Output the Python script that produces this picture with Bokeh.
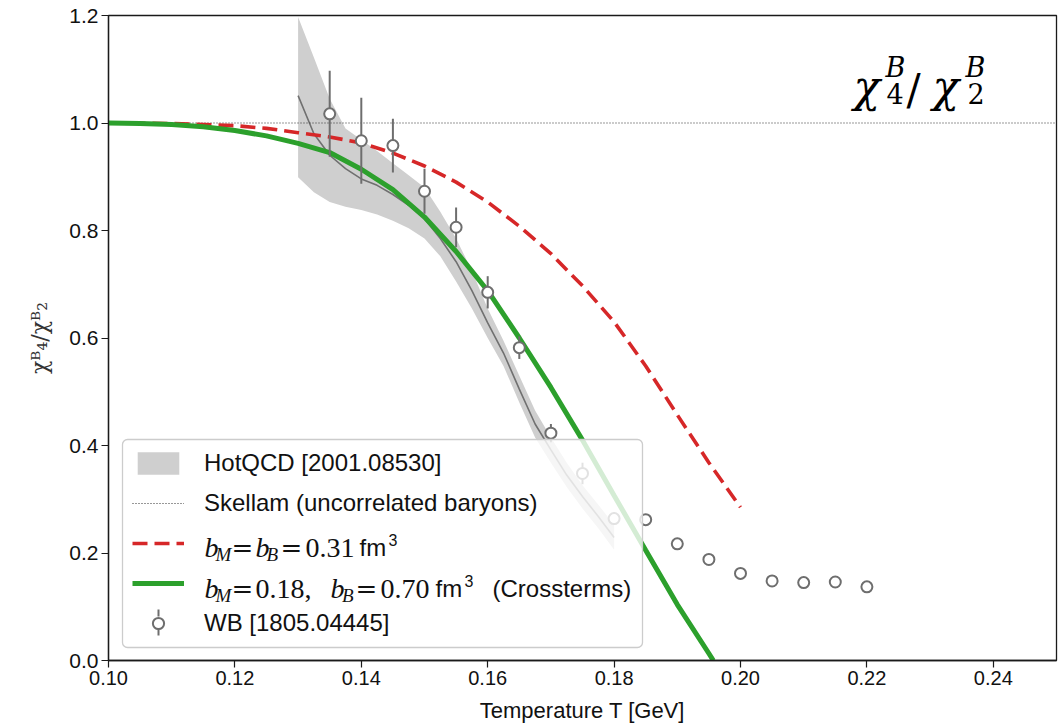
from bokeh.plotting import figure
from bokeh.models import (Range1d, FixedTicker, PrintfTickFormatter, Legend, LegendItem,
                          Label, ColumnDataSource, PolyAnnotation, BoxAnnotation)
from bokeh.embed import file_html
from bokeh.resources import INLINE

# ---------------- data ----------------
hotqcd_T = [0.130, 0.1325, 0.135, 0.1375, 0.140, 0.1425, 0.145, 0.1475, 0.150, 0.1525,
            0.155, 0.1575, 0.160, 0.1625, 0.165, 0.1675, 0.170, 0.1725, 0.175, 0.1775, 0.180]
hotqcd_hi = [1.197, 1.122, 1.045, 0.990, 0.969, 0.948, 0.925, 0.903, 0.880, 0.835,
             0.785, 0.725, 0.655, 0.595, 0.530, 0.465, 0.415, 0.368, 0.326, 0.290, 0.252]
hotqcd_lo = [0.899, 0.871, 0.853, 0.844, 0.838, 0.830, 0.818, 0.804, 0.785, 0.752,
             0.705, 0.655, 0.600, 0.548, 0.480, 0.415, 0.368, 0.323, 0.283, 0.246, 0.206]
hotqcd_mid = [1.051, 0.980, 0.940, 0.915, 0.896, 0.884, 0.867, 0.847, 0.822, 0.785,
              0.742, 0.688, 0.628, 0.572, 0.505, 0.440, 0.392, 0.345, 0.305, 0.268, 0.229]

skellam_T = [0.10, 0.25]
skellam_v = [1.0, 1.0]

red_T = [0.100, 0.110, 0.120, 0.125, 0.130, 0.135, 0.140, 0.145, 0.150, 0.155,
         0.160, 0.165, 0.170, 0.175, 0.180, 0.185, 0.190, 0.195, 0.200]
red_v = [1.000, 0.999, 0.995, 0.990, 0.982, 0.974, 0.963, 0.944, 0.920, 0.890,
         0.853, 0.808, 0.757, 0.697, 0.630, 0.548, 0.457, 0.368, 0.285]

green_T = [0.100, 0.105, 0.110, 0.115, 0.120, 0.125, 0.130, 0.135, 0.140, 0.145,
           0.150, 0.155, 0.160, 0.165, 0.170, 0.175, 0.180, 0.185, 0.190, 0.195, 0.1957]
green_v = [1.000, 0.999, 0.997, 0.993, 0.986, 0.976, 0.962, 0.945, 0.914, 0.876,
           0.825, 0.761, 0.688, 0.600, 0.508, 0.410, 0.307, 0.205, 0.104, 0.013, 0.0]

wb_T = [0.135, 0.140, 0.145, 0.150, 0.155, 0.160, 0.165, 0.170, 0.175, 0.180,
        0.185, 0.190, 0.195, 0.200, 0.205, 0.210, 0.215, 0.220]
wb_v = [1.017, 0.967, 0.958, 0.873, 0.806, 0.685, 0.582, 0.423, 0.348, 0.264,
        0.262, 0.217, 0.188, 0.162, 0.148, 0.145, 0.146, 0.137]
wb_err = [0.080, 0.080, 0.050, 0.042, 0.037, 0.030, 0.021, 0.017, 0.020, 0.012,
          0.010, 0.004, 0.004, 0.004, 0.004, 0.004, 0.004, 0.004]

x_ticks = [0.10, 0.12, 0.14, 0.16, 0.18, 0.20, 0.22, 0.24]
y_ticks = [0.0, 0.2, 0.4, 0.6, 0.8, 1.0, 1.2]

legend_labels = ["HotQCD [2001.08530]", "Skellam (uncorrelated baryons)", " ", " ",
                 "WB [1805.04445]"]

# ---------------- layout ----------------
W, H = 1060, 728
BL, BR, BT, BB = 108, 4, 15, 68
X0, X1, Y0, Y1 = 0.10, 0.25, 0.0, 1.2
FRAME_LEFT = BL
FRAME_BOTTOM = H - BB
PX_T = (W - BL - BR) / (X1 - X0)
PX_V = (H - BT - BB) / (Y1 - Y0)


def at(px, py):
    """picture pixel -> data coordinates (annotation placement only)"""
    return X0 + (px - FRAME_LEFT) / PX_T, Y0 + (FRAME_BOTTOM - py) / PX_V


p = figure(width=W, height=H, x_range=Range1d(X0, X1), y_range=Range1d(Y0, Y1),
           output_backend="svg", toolbar_location=None,
           min_border_left=BL, min_border_right=BR, min_border_top=BT, min_border_bottom=BB)
p.grid.visible = False
p.outline_line_color = "#1a1a1a"
p.outline_line_width = 1.3
p.outline_line_alpha = 1.0

p.xaxis.ticker = FixedTicker(ticks=x_ticks)
p.xaxis.formatter = PrintfTickFormatter(format="%.2f")
p.yaxis.ticker = FixedTicker(ticks=y_ticks)
p.yaxis.formatter = PrintfTickFormatter(format="%.1f")
for ax in (p.xaxis[0], p.yaxis[0]):
    ax.major_tick_in = 0
    ax.major_tick_out = 7
    ax.minor_tick_in = 0
    ax.minor_tick_out = 0
    ax.major_tick_line_color = "#1a1a1a"
    ax.major_tick_line_width = 1.2
    ax.axis_line_color = "#1a1a1a"
    ax.axis_line_width = 1.3
    ax.major_label_text_font = "Liberation Sans"
    ax.major_label_text_color = "#111111"
    ax.axis_label_text_font_style = "normal"
    ax.axis_label_text_color = "#111111"

p.xaxis.major_label_text_font_size = "20px"
p.yaxis.major_label_text_font_size = "21px"
p.xaxis.major_label_standoff = 3
p.yaxis.major_label_standoff = 3
p.xaxis.axis_label = "Temperature T [GeV]"
p.xaxis.axis_label_text_font = "Liberation Sans"
p.xaxis.axis_label_text_font_size = "22px"
p.xaxis.axis_label_standoff = 10
p.yaxis.axis_label = "χᴮ₄/χᴮ₂"
p.yaxis.axis_label_text_font = "DejaVu Serif"
p.yaxis.axis_label_text_font_size = "22px"
p.yaxis.axis_label_text_color = "#333333"
p.yaxis.axis_label_standoff = 14

# ---------------- glyphs ----------------
band_src = ColumnDataSource(dict(T=hotqcd_T, lo=hotqcd_lo, hi=hotqcd_hi, mid=hotqcd_mid))
band_r = p.varea(x="T", y1="lo", y2="hi", source=band_src, fill_color="#cfcfcf", fill_alpha=1.0)
p.line(x="T", y="mid", source=band_src, line_color="#707070", line_width=1.6)

skellam_r = p.line(skellam_T, skellam_v, line_color="#333333", line_width=1.1, line_dash="1 2")
red_r = p.line(red_T, red_v, line_color="#d62728", line_width=3.6, line_dash="15 7")
green_r = p.line(green_T, green_v, line_color="#2ca02c", line_width=5)

wb_src = ColumnDataSource(dict(T=wb_T, v=wb_v,
                               lo=[v - e for v, e in zip(wb_v, wb_err)],
                               hi=[v + e for v, e in zip(wb_v, wb_err)]))
p.segment(x0="T", y0="lo", x1="T", y1="hi", source=wb_src, line_color="#6e6e6e", line_width=2)
wb_r = p.scatter(x="T", y="v", source=wb_src, marker="circle", size=11,
                 line_color="#6e6e6e", line_width=2, fill_color="white")

# ---------------- legend ----------------
# frame (semi-transparent box) drawn as an annotation so that the math texts sit on top
LEG_L, LEG_R, LEG_T, LEG_B = 122, 642, 439, 647
bx0, by0 = at(LEG_L, LEG_B)
bx1, by1 = at(LEG_R, LEG_T)
box = BoxAnnotation(left=bx0, right=bx1, bottom=by0, top=by1, fill_color="white",
                    fill_alpha=0.8, line_color="#cccccc", line_alpha=1.0, line_width=1.3)
if "border_radius" in BoxAnnotation.properties():
    box.border_radius = 5
p.add_layout(box)

legend = Legend(items=[LegendItem(label=legend_labels[0], renderers=[band_r]),
                       LegendItem(label=legend_labels[1], renderers=[skellam_r]),
                       LegendItem(label=legend_labels[2], renderers=[red_r]),
                       LegendItem(label=legend_labels[3], renderers=[green_r]),
                       LegendItem(label=legend_labels[4], renderers=[wb_r])],
                location=(LEG_L - FRAME_LEFT, FRAME_BOTTOM - LEG_B), margin=0, padding=10,
                spacing=12, glyph_width=52, glyph_height=28, label_standoff=20,
                label_width=428, label_text_font="Liberation Sans",
                label_text_font_size="24px", label_text_color="#111111",
                border_line_color="#cccccc", border_line_alpha=0.0,
                background_fill_alpha=0.0)
p.add_layout(legend)

# vertical error-bar stub for the WB legend handle
for (ya, yb) in ((609, 616), (628, 635)):
    xa, va = at(158, ya)
    _, vb = at(158, yb)
    p.add_layout(PolyAnnotation(xs=[xa, xa], ys=[va, vb], line_color="#6e6e6e",
                                line_alpha=1.0, line_width=2, fill_alpha=0,
                                level="overlay"))

SERIF = "Liberation Serif"
SANS = "Liberation Sans"
EQF = "DejaVu Serif"


def piece(text, px, py, font, size, style="normal", align="left", color="#111111"):
    x, y = at(px, py)
    p.add_layout(Label(x=x, y=y, text=text, text_font=font, text_font_size=f"{size}px",
                       text_font_style=style, text_align=align, text_baseline="alphabetic",
                       text_color=color, level="overlay"))


# row 3: b_M = b_B = 0.31 fm^3
b3 = 547
piece("b", 204, b3, SERIF, 28, "italic")
piece("M", 215, b3 + 6.5, SERIF, 19, "italic")
piece("=", 242, b3, EQF, 26, align="center")
piece("b", 255, b3, SERIF, 28, "italic")
piece("B", 266, b3 + 6.5, SERIF, 19, "italic")
piece("=", 291, b3, EQF, 26, align="center")
piece("0.31", 305, b3, SERIF, 28)
piece("fm", 359, b3, SANS, 24)
piece("3", 388, b3 - 8, SANS, 16)

# row 4: b_M = 0.18, b_B = 0.70 fm^3 (Crossterms)
b4 = 588
piece("b", 204, b4, SERIF, 28, "italic")
piece("M", 215, b4 + 6.5, SERIF, 19, "italic")
piece("=", 242, b4, EQF, 26, align="center")
piece("0.18,", 255, b4, SERIF, 28)
piece("b", 330, b4, SERIF, 28, "italic")
piece("B", 341.5, b4 + 6.5, SERIF, 19, "italic")
piece("=", 366, b4, EQF, 26, align="center")
piece("0.70", 380, b4, SERIF, 28)
piece("fm", 435, b4, SANS, 24)
piece("3", 464, b4 - 8, SANS, 16)
piece("(Crossterms)", 492, b4, SANS, 24)

# big observable label, top right
BIGF = "DejaVu Serif"
piece("χ", 853, 86, BIGF, 44, "italic", color="black")
piece("B", 885, 67, BIGF, 27, "italic", color="black")
piece("4", 886, 93, BIGF, 27, color="black")
piece("/", 906, 89, BIGF, 42, color="black")
piece("χ", 932, 86, BIGF, 44, "italic", color="black")
piece("B", 965, 67, BIGF, 27, "italic", color="black")
piece("2", 967, 93, BIGF, 27, color="black")

open("out.html", "w").write(file_html(p, INLINE))
